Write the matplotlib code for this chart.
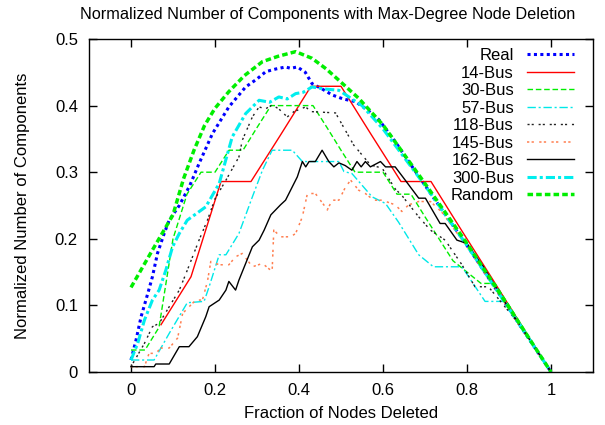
import numpy as np
import matplotlib
matplotlib.use('Agg')
import matplotlib.pyplot as plt

plt.rcParams['font.family'] = ['Liberation Sans', 'DejaVu Sans']

# values
real_x = [0, 0.012, 0.024, 0.04, 0.051, 0.063, 0.079, 0.091, 0.115, 0.14, 0.162, 0.194, 0.233, 0.273,
          0.3, 0.321, 0.345, 0.368, 0.38, 0.396, 0.415, 0.431, 0.455, 0.479, 0.505, 0.534, 0.56, 0.59,
          0.63, 0.673, 0.72, 0.8, 0.9, 1.0]
real_y = [0.018, 0.048, 0.083, 0.118, 0.143, 0.178, 0.208, 0.228, 0.25, 0.28, 0.313, 0.358, 0.398, 0.428,
          0.44, 0.451, 0.455, 0.458, 0.456, 0.458, 0.45, 0.433, 0.425, 0.416, 0.41, 0.406, 0.395, 0.379,
          0.345, 0.305, 0.262, 0.19, 0.095, 0]

bus14_x = np.arange(1, 15) / 14
bus14_y = [0.071, 0.143, 0.286, 0.286, 0.357, 0.429, 0.429, 0.357, 0.286, 0.286,
           0.214, 0.143, 0.071, 0]

bus30_x = np.arange(31) / 30
bus30_y = [0.033, 0.033, 0.067, 0.2, 0.267, 0.3, 0.3, 0.333, 0.333, 0.367, 0.4, 0.4, 0.4, 0.4,
           0.367, 0.333, 0.3, 0.3, 0.3, 0.267, 0.267, 0.233, 0.2, 0.167, 0.15, 0.133, 0.133,
           0.1, 0.067, 0.033, 0]

bus57_x = [0, 0.055, 0.091, 0.119, 0.134, 0.174, 0.186, 0.21, 0.226, 0.257, 0.289, 0.313, 0.336,
           0.384, 0.408, 0.495, 0.507, 0.526, 0.574, 0.606, 0.637, 0.685, 0.72, 0.788, 0.843,
           0.891, 0.95, 1.0]
bus57_y = [0.018, 0.018, 0.058, 0.088, 0.104, 0.106, 0.128, 0.176, 0.176, 0.208, 0.263, 0.303, 0.333,
           0.333, 0.316, 0.316, 0.301, 0.298, 0.263, 0.253, 0.225, 0.176, 0.158, 0.158, 0.106,
           0.106, 0.05, 0]

bus118_x = [0, 0.032, 0.051, 0.067, 0.091, 0.115, 0.131, 0.162, 0.182, 0.2, 0.226, 0.257, 0.265,
            0.289, 0.305, 0.32, 0.336, 0.352, 0.372, 0.388, 0.416, 0.428, 0.487, 0.53, 0.57,
            0.598, 0.629, 0.645, 0.685, 0.713, 0.748, 0.788, 0.819, 0.851, 0.91, 1.0]
bus118_y = [0.008, 0.043, 0.068, 0.073, 0.098, 0.123, 0.148, 0.198, 0.228, 0.26, 0.288, 0.323, 0.348,
            0.383, 0.398, 0.395, 0.401, 0.395, 0.383, 0.391, 0.398, 0.391, 0.389, 0.341, 0.311,
            0.306, 0.275, 0.265, 0.233, 0.213, 0.198, 0.161, 0.128, 0.128, 0.083, 0]

bus145_x = [0, 0.032, 0.043, 0.059, 0.071, 0.091, 0.111, 0.123, 0.154, 0.17, 0.182, 0.19, 0.21,
            0.233, 0.249, 0.265, 0.289, 0.313, 0.336, 0.34, 0.356, 0.38, 0.392, 0.408, 0.42,
            0.439, 0.459, 0.467, 0.479, 0.495, 0.511, 0.523, 0.542, 0.558, 0.578, 0.598, 0.629,
            0.645, 0.661, 0.685, 0.713, 0.74, 0.8, 0.9, 1.0]
bus145_y = [0.008, 0.008, 0.028, 0.028, 0.036, 0.036, 0.051, 0.088, 0.108, 0.108, 0.136, 0.166, 0.161,
            0.161, 0.173, 0.178, 0.158, 0.163, 0.151, 0.213, 0.203, 0.203, 0.208, 0.233, 0.268,
            0.268, 0.251, 0.243, 0.258, 0.258, 0.278, 0.288, 0.273, 0.268, 0.258, 0.258, 0.251,
            0.241, 0.251, 0.256, 0.256, 0.24, 0.188, 0.094, 0]

bus162_x = [0, 0.055, 0.059, 0.091, 0.115, 0.138, 0.158, 0.178, 0.186, 0.21, 0.226, 0.233, 0.249,
            0.257, 0.273, 0.289, 0.305, 0.317, 0.333, 0.356, 0.368, 0.384, 0.396, 0.408, 0.416,
            0.424, 0.439, 0.455, 0.471, 0.483, 0.495, 0.51, 0.526, 0.538, 0.548, 0.558, 0.57,
            0.582, 0.594, 0.606, 0.629, 0.653, 0.685, 0.701, 0.736, 0.748, 0.776, 0.8, 0.839,
            0.9, 1.0]
bus162_y = [0.008, 0.008, 0.012, 0.012, 0.038, 0.038, 0.053, 0.083, 0.098, 0.108, 0.123, 0.136, 0.123,
            0.138, 0.163, 0.188, 0.198, 0.213, 0.236, 0.251, 0.258, 0.278, 0.293, 0.316, 0.308,
            0.316, 0.316, 0.333, 0.316, 0.308, 0.314, 0.31, 0.303, 0.316, 0.308, 0.316, 0.308,
            0.312, 0.316, 0.308, 0.308, 0.288, 0.261, 0.261, 0.223, 0.223, 0.198, 0.193, 0.158,
            0.095, 0]

bus300_x = [0, 0.016, 0.032, 0.051, 0.067, 0.083, 0.099, 0.115, 0.134, 0.178, 0.21, 0.241, 0.273,
            0.305, 0.33, 0.352, 0.372, 0.392, 0.41, 0.431, 0.46, 0.495, 0.55, 0.6, 0.7, 0.8,
            0.9, 1.0]
bus300_y = [0.018, 0.043, 0.078, 0.108, 0.123, 0.153, 0.188, 0.208, 0.228, 0.248, 0.283, 0.353, 0.388,
            0.408, 0.405, 0.413, 0.41, 0.418, 0.42, 0.428, 0.425, 0.423, 0.4, 0.365, 0.28, 0.19,
            0.095, 0]

rand_x = [0, 0.05, 0.1, 0.125, 0.15, 0.175, 0.2, 0.233, 0.27, 0.313, 0.35, 0.392, 0.431, 0.465,
          0.495, 0.542, 0.6, 0.7, 0.8, 0.9, 1.0]
rand_y = [0.127, 0.182, 0.236, 0.29, 0.333, 0.37, 0.396, 0.421, 0.445, 0.466, 0.474, 0.481, 0.471,
          0.455, 0.438, 0.411, 0.371, 0.283, 0.193, 0.097, 0]

fig = plt.figure(figsize=(6.05, 4.25), dpi=100)
ax = fig.add_axes([89/605, 1-372/425, (593-89)/605, (372-39)/425])

ax.plot(real_x, real_y, color='#0000ff', lw=2.2, ls=(0, (1, 1.1)), label='Real')
ax.plot(bus14_x, bus14_y, color='#ff0000', lw=1, label='14-Bus')
ax.plot(bus30_x, bus30_y, color='#00ee00', lw=1, ls=(0, (4, 2)), label='30-Bus')
ax.plot(bus57_x, bus57_y, color='#00e8e8', lw=1, ls=(0, (6, 2, 1.5, 2)), label='57-Bus')
ax.plot(bus118_x, bus118_y, color='#222222', lw=1, ls=(0, (1.5, 1.5, 1.5, 3.5)), label='118-Bus')
ax.plot(bus145_x, bus145_y, color='#ff7f50', lw=1.1, ls=(0, (1.5, 1.5, 1.5, 3.5)), label='145-Bus')
ax.plot(bus162_x, bus162_y, color='black', lw=1, label='162-Bus')
ax.plot(bus300_x, bus300_y, color='#00eeee', lw=2.2, ls=(0, (3, 1, 1, 1)), label='300-Bus')
ax.plot(rand_x, rand_y, color='#00ee00', lw=2.5, ls=(0, (1.6, 0.9)), label='Random')

ax.set_xlim(-0.1, 1.1)
ax.set_ylim(0, 0.5)
ax.set_xticks([0, 0.2, 0.4, 0.6, 0.8, 1])
ax.set_xticklabels(['0', '0.2', '0.4', '0.6', '0.8', '1'])
ax.set_yticks([0, 0.1, 0.2, 0.3, 0.4, 0.5])
ax.set_yticklabels(['0', '0.1', '0.2', '0.3', '0.4', '0.5'])
ax.tick_params(direction='in', top=True, right=True, length=6, width=1, labelsize=12, pad=8)
for s in ax.spines.values():
    s.set_linewidth(1)

fig.text(328/605, 1-14/425, 'Normalized Number of Components with Max-Degree Node Deletion',
         fontsize=11.7, ha='center', va='center')
ax.set_xlabel('Fraction of Nodes Deleted', fontsize=12, labelpad=6)
ax.set_ylabel('Normalized Number of Components', fontsize=12, labelpad=18)

ax.legend(loc='upper right', bbox_to_anchor=(0.962, 0.972), frameon=False, markerfirst=False,
          fontsize=12, handlelength=2.8, labelspacing=0.15, borderaxespad=0, borderpad=0,
          handletextpad=0.8)

plt.savefig('out.png', dpi=100)
